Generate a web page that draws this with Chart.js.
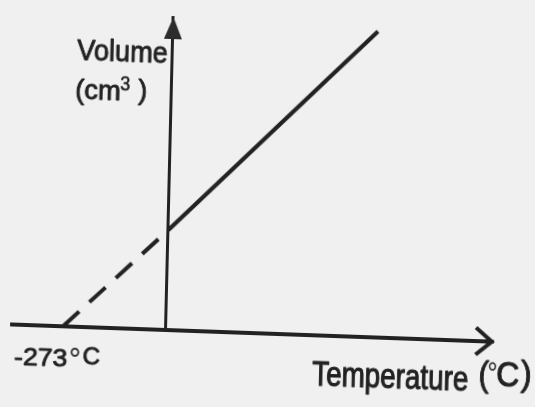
<!DOCTYPE html>
<html><head><meta charset="utf-8">
<script src="https://cdn.jsdelivr.net/npm/chart.js@4/dist/chart.umd.min.js"></script>
<style>
html,body{margin:0;padding:0;background:#f0f0f0;overflow:hidden;width:535px;height:407px}
#wrap{position:absolute;left:0;top:0;width:535px;height:407px;transform-origin:166px 330px;transform:matrix(0.99936,0.03577,-0.0241,0.9997,0,0)}
canvas{display:block}
</style></head><body>
<div id="wrap"><canvas id="c" width="535" height="407"></canvas></div>
<script>
// ---- data ----
const extrapolatedTemps = [-273, 0];      // dashed part (°C)
const extrapolatedVolumes = [0, 100];     // cm3 (arbitrary units)
const measuredTemps = [0, 543];           // solid part (°C)
const measuredVolumes = [100, 306];
const tempRange = [-408, 867];
const volumeRange = [0, 313];
const xTickLabels = ['-273', '°', 'C'];
const yTitle = ['Volume', '(cm', '3', ')'];
const xTitle = ['Temperature', '(', '°', 'C', ')'];

const INK = '#222222';
const FONT = '"Liberation Sans Narrow", "Liberation Sans", Arial, sans-serif';
const OX = 166, OY = 330;
// screen (tilted scan) -> canvas coordinates
function toCanvas(px, py) {
  const dx = px - OX, dy = py - OY;
  return [OX + 0.9997 * dx + 0.0241 * dy, OY - 0.03577 * dx + 0.99936 * dy];
}
// text placed by ink left/right and baseline
function txt(c, s, left, right, base, size, sw) {
  c.font = size + 'px ' + FONT;
  const m = c.measureText(s);
  const inkW = m.actualBoundingBoxLeft + m.actualBoundingBoxRight;
  const k = (right - left) / inkW;
  const [cx, cy] = toCanvas(left, base);
  c.save();
  c.translate(cx, cy); c.scale(k, 1);
  c.textAlign = 'left'; c.textBaseline = 'alphabetic';
  c.fillText(s, m.actualBoundingBoxLeft, 0);
  c.lineWidth = sw === undefined ? 0.9 : sw; c.lineJoin = 'round';
  if (c.lineWidth > 0) c.strokeText(s, m.actualBoundingBoxLeft, 0);
  c.restore();
}
// text fitted into an ink box
function box(c, s, left, top, right, bottom, size) {
  c.font = size + 'px ' + FONT;
  const m = c.measureText(s);
  const kx = (right - left) / (m.actualBoundingBoxLeft + m.actualBoundingBoxRight);
  const ky = (bottom - top) / (m.actualBoundingBoxAscent + m.actualBoundingBoxDescent);
  const [cx, cy] = toCanvas(left, top);
  c.save();
  c.translate(cx, cy); c.scale(kx, ky);
  c.textAlign = 'left'; c.textBaseline = 'alphabetic';
  c.fillText(s, m.actualBoundingBoxLeft, m.actualBoundingBoxAscent);
  c.restore();
}

const decor = {
  id: 'decor',
  afterDraw(chart) {
    const c = chart.ctx, xs = chart.scales.x, ys = chart.scales.y;
    const x0 = xs.getPixelForValue(0), yb = ys.getPixelForValue(0);
    const xr = xs.right, yt = ys.top;
    c.save();
    // y axis arrow head (filled)
    c.fillStyle = '#2c2c2c';
    c.beginPath(); c.moveTo(x0, yt); c.lineTo(x0 - 9, yt + 22); c.lineTo(x0 + 9, yt + 22); c.closePath(); c.fill();
    // x axis arrow head (open)
    c.strokeStyle = INK; c.lineWidth = 4; c.lineJoin = 'miter'; c.lineCap = 'butt';
    c.beginPath(); c.moveTo(xr - 17, yb - 13.5); c.lineTo(xr - 1, yb); c.lineTo(xr - 17, yb + 13.5); c.stroke();
    // texts
    c.fillStyle = INK; c.strokeStyle = INK;
    txt(c, yTitle[0], 77, 167, 60, 30);
    txt(c, yTitle[1], 76, 119, 98.5, 27);
    txt(c, yTitle[2], 120, 130, 90, 20, 0.5);
    txt(c, yTitle[3], 138, 146, 98.5, 27);
    txt(c, xTickLabels[0], 15, 66.5, 364.3, 24.5);
    box(c, xTickLabels[1], 70, 347, 80, 357, 30);
    txt(c, xTickLabels[2], 83.5, 99.3, 364.3, 24.5);
    txt(c, xTitle[0], 312, 467, 385, 35, 1.1);
    txt(c, xTitle[1], 480, 489, 386, 35);
    box(c, xTitle[2], 488.5, 362, 497, 371, 30);
    txt(c, xTitle[3], 497, 518, 385.5, 35, 1.1);
    txt(c, xTitle[4], 520.5, 530, 386, 35);
    c.restore();
  }
};

new Chart(document.getElementById('c').getContext('2d'), {
  type: 'line',
  data: {
    datasets: [
      {
        data: extrapolatedTemps.map((t, i) => ({ x: t, y: extrapolatedVolumes[i] })),
        borderColor: INK, borderWidth: 4, borderDash: [22, 14], pointRadius: 0, tension: 0, fill: false, clip: false
      },
      {
        data: measuredTemps.map((t, i) => ({ x: t, y: measuredVolumes[i] })),
        borderColor: INK, borderWidth: 4, pointRadius: 0, tension: 0, fill: false, clip: false
      }
    ]
  },
  options: {
    responsive: false, animation: false, devicePixelRatio: 1,
    layout: { padding: { left: 12, right: 42, top: 17, bottom: 77 } },
    plugins: { legend: { display: false }, tooltip: { enabled: false } },
    scales: {
      x: {
        type: 'linear', min: tempRange[0], max: tempRange[1],
        grid: { display: false, drawTicks: false }, ticks: { display: false },
        border: { display: true, color: INK, width: 4 }
      },
      y: {
        type: 'linear', position: { x: 0 }, min: volumeRange[0], max: volumeRange[1],
        grid: { display: false, drawTicks: false }, ticks: { display: false },
        border: { display: true, color: INK, width: 3 }
      }
    }
  },
  plugins: [decor]
});
</script>
</body></html>
